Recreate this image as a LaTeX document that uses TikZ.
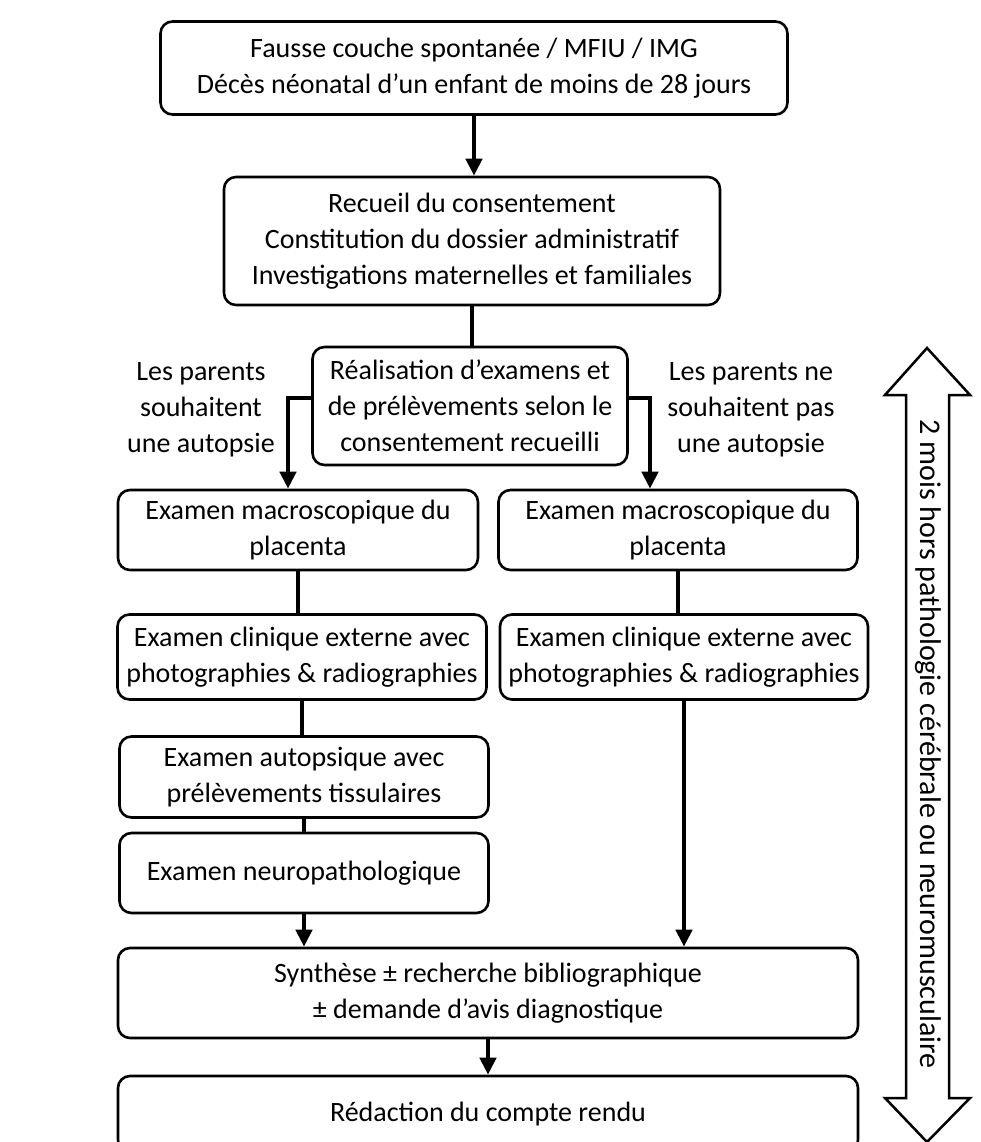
\documentclass[tikz,border=0pt]{standalone}
\usepackage{fontspec}
\setmainfont{Carlito}
\usetikzlibrary{arrows.meta}

\begin{document}
\begin{tikzpicture}[x=1pt, y=-1pt, font=\fontsize{28}{36}\selectfont,
    boite/.style={draw, line width=2.6pt, rounded corners=12pt, align=center, inner sep=0pt},
    trait/.style={line width=4.5pt},
    fleche/.style={line width=4.5pt, -{Triangle[length=17pt,width=16pt]}}]

  \useasboundingbox[fill=white] (0,0) rectangle (981,1142);

  % --- colonne centrale ---
  \node[boite, minimum width=627pt, minimum height=93pt] (deces) at (474,68)
    {Fausse couche spontanée / MFIU / IMG\\Décès néonatal d’un enfant de moins de 28 jours};
  \node[boite, minimum width=496pt, minimum height=128pt] (recueil) at (472,241)
    {Recueil du consentement\\Constitution du dossier administratif\\Investigations maternelles et familiales};
  \node[boite, minimum width=315pt, minimum height=118pt] (realisation) at (470,406)
    {Réalisation d’examens et\\de prélèvements selon le\\consentement recueilli};

  % --- choix des parents ---
  \node[align=center] (avecAutopsie) at (201,410) {Les parents\\souhaitent\\une autopsie};
  \node[align=center] (sansAutopsie) at (751,410) {Les parents ne\\souhaitent pas\\une autopsie};

  % --- colonne gauche ---
  \node[boite, minimum width=360pt, minimum height=80pt] (macroG) at (298,530)
    {Examen macroscopique du\\placenta};
  \node[boite, minimum width=369pt, minimum height=85pt] (cliniqueG) at (302,657)
    {Examen clinique externe avec\\photographies \& radiographies};
  \node[boite, minimum width=369pt, minimum height=81pt] (autopsique) at (304,777)
    {Examen autopsique avec\\prélèvements tissulaires};
  \node[boite, minimum width=369pt, minimum height=80pt] (neuro) at (304,873)
    {Examen neuropathologique};

  % --- colonne droite ---
  \node[boite, minimum width=359pt, minimum height=80pt] (macroD) at (678,530)
    {Examen macroscopique du\\placenta};
  \node[boite, minimum width=368pt, minimum height=85pt] (cliniqueD) at (684,657)
    {Examen clinique externe avec\\photographies \& radiographies};

  % --- bas ---
  \node[boite, minimum width=740pt, minimum height=90pt] (synthese) at (488,993)
    {Synthèse ± recherche bibliographique\\± demande d’avis diagnostique};
  \node[boite, minimum width=740pt, minimum height=76pt] (redaction) at (488,1114)
    {Rédaction du compte rendu};

  % --- liaisons ---
  \draw[fleche] (deces.south) -- (deces.south |- recueil.north);
  \draw[trait] (recueil.south) -- (recueil.south |- realisation.north);
  \draw[fleche] ([yshift=8pt]realisation.west) -| ([xshift=-10pt]macroG.north);
  \draw[fleche] ([yshift=8pt]realisation.east) -| ([xshift=-28pt]macroD.north);
  \draw[trait] (macroG.south) -- (macroG.south |- cliniqueG.north);
  \draw[trait] (cliniqueG.south) -- (cliniqueG.south |- autopsique.north);
  \draw[trait] (autopsique.south) -- (autopsique.south |- neuro.north);
  \draw[fleche] (neuro.south) -- (neuro.south |- synthese.north);
  \draw[trait] (macroD.south) -- (macroD.south |- cliniqueD.north);
  \draw[fleche] (cliniqueD.south) -- (cliniqueD.south |- synthese.north);
  \draw[fleche] (synthese.south) -- (synthese.south |- redaction.north);

  % --- double fleche du delai ---
  \draw[line width=2.5pt, line join=miter, fill=white]
    (927,348) -- (970,395) -- (949,395) -- (949,1098) -- (970,1098) -- (927,1142)
    -- (885,1098) -- (906,1098) -- (906,395) -- (885,395) -- cycle;
  \node[rotate=-90, font=\fontsize{30}{36}\selectfont] (delai) at (928,744)
    {2 mois hors pathologie cérébrale ou neuromusculaire};

\end{tikzpicture}
\end{document}
